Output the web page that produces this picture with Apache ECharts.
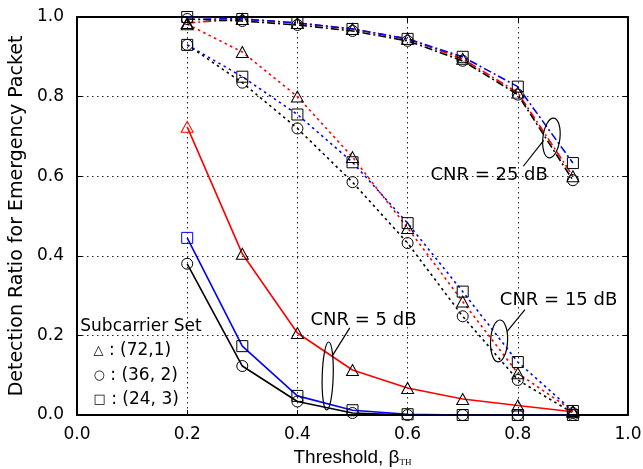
<!DOCTYPE html>
<html>
<head>
<meta charset="utf-8">
<script src="https://cdn.jsdelivr.net/npm/echarts@6/dist/echarts.min.js"></script>
<style>
  html, body { margin: 0; padding: 0; background: #fff; }
  #chart { width: 643px; height: 469px; }
</style>
</head>
<body>
<div id="chart"></div>
<script>
// threshold values on the x axis
const thresholds = [0.2, 0.3, 0.4, 0.5, 0.6, 0.7, 0.8, 0.9];
const xTicks = [0, 0.2, 0.4, 0.6, 0.8, 1.0];
const yTicks = [0, 0.2, 0.4, 0.6, 0.8, 1.0];

// CNR = 25 dB
const cnr25_72_1 = [0.985, 0.995, 0.985, 0.970, 0.945, 0.895, 0.810, 0.600];
const cnr25_36_2 = [0.995, 0.990, 0.980, 0.965, 0.940, 0.890, 0.805, 0.590];
const cnr25_24_3 = [1.000, 0.995, 0.985, 0.970, 0.945, 0.900, 0.825, 0.633];
// CNR = 15 dB
const cnr15_72_1 = [0.982, 0.912, 0.800, 0.648, 0.470, 0.285, 0.105, 0.010];
const cnr15_36_2 = [0.930, 0.835, 0.720, 0.585, 0.432, 0.248, 0.088, 0.005];
const cnr15_24_3 = [0.930, 0.850, 0.755, 0.635, 0.482, 0.310, 0.133, 0.010];
// CNR = 5 dB
const cnr5_72_1 = [0.724, 0.405, 0.206, 0.113, 0.068, 0.040, 0.024, 0.008];
const cnr5_36_2 = [0.380, 0.123, 0.034, 0.005, 0.000, 0.000, 0.000, 0.000];
const cnr5_24_3 = [0.445, 0.173, 0.048, 0.012, 0.002, 0.000, 0.000, 0.000];

const subcarrierSets = ['(72,1)', '(36, 2)', '(24, 3)'];
const cnrLabels = ['CNR = 25 dB', 'CNR = 15 dB', 'CNR = 5 dB'];

const RED = '#ff0000', BLACK = '#000000', BLUE = '#0000ff';
const FONT = 'DejaVu Sans';
const DASHDOT = [8, 3, 2, 3];
const DOTTED = [2.5, 3.5];

function makeSeries(name, values, color, symbol, size, dash, colorFirst) {
  return {
    name: name,
    type: 'line',
    data: thresholds.map((x, i) => {
      const item = { value: [x, values[i]] };
      if (colorFirst && i === 0) item.itemStyle = { borderColor: color };
      return item;
    }),
    symbol: symbol,
    symbolSize: size,
    showSymbol: true,
    lineStyle: { color: color, width: 1.6, type: dash },
    itemStyle: { color: 'rgba(0,0,0,0)', borderColor: BLACK, borderWidth: 1 },
    emphasis: { disabled: true },
    animation: false
  };
}

const series = [
  makeSeries('25-72', cnr25_72_1, RED, 'triangle', [12, 11], DASHDOT),
  makeSeries('25-24', cnr25_24_3, BLUE, 'rect', 11, DASHDOT),
  makeSeries('25-36', cnr25_36_2, BLACK, 'circle', 11, DASHDOT),
  makeSeries('15-36', cnr15_36_2, BLACK, 'circle', 11, DOTTED),
  makeSeries('15-24', cnr15_24_3, BLUE, 'rect', 11, DOTTED),
  makeSeries('15-72', cnr15_72_1, RED, 'triangle', [12, 11], DOTTED),
  makeSeries('5-72', cnr5_72_1, RED, 'triangle', [12, 11], 'solid', true),
  makeSeries('5-24', cnr5_24_3, BLUE, 'rect', 11, 'solid', true),
  makeSeries('5-36', cnr5_36_2, BLACK, 'circle', 11, 'solid', true)
];

const frameLine = { show: true, onZero: false, lineStyle: { color: '#000', width: 2 } };
const tickIn = { show: true, inside: true, length: 5, lineStyle: { color: '#000', width: 1 } };

const chart = echarts.init(document.getElementById('chart'), null, { renderer: 'canvas' });

chart.setOption({
  animation: false,
  backgroundColor: '#fff',
  grid: { left: 77, right: 15, top: 17, bottom: 54, outerBoundsMode: 'none', containLabel: false },
  xAxis: [{
    type: 'value', min: xTicks[0], max: xTicks[xTicks.length - 1], interval: 0.2,
    axisLine: frameLine, axisTick: tickIn,
    axisLabel: { formatter: v => v.toFixed(1), fontFamily: FONT, fontSize: 17, color: '#000', margin: 11 },
    splitLine: { show: true, lineStyle: { color: '#222', width: 1, type: [1.5, 3.5] } },
    name: '{t|Threshold, β}{s|TH}',
    nameLocation: 'middle', nameGap: 27,
    nameTextStyle: {
      rich: {
        t: { fontFamily: 'Liberation Sans', fontSize: 19, color: '#000', lineHeight: 22, verticalAlign: 'bottom' },
        s: { fontFamily: 'Liberation Serif', fontSize: 9, color: '#000', lineHeight: 9, verticalAlign: 'bottom' }
      }
    }
  }, {
    type: 'value', position: 'top', min: 0, max: 1, interval: 0.2,
    axisLine: frameLine, axisTick: tickIn, axisLabel: { show: false }, splitLine: { show: false }
  }],
  yAxis: [{
    type: 'value', min: yTicks[0], max: yTicks[yTicks.length - 1], interval: 0.2,
    axisLine: frameLine, axisTick: tickIn,
    axisLabel: { formatter: v => v.toFixed(1), fontFamily: FONT, fontSize: 17, color: '#000', margin: 13 },
    splitLine: { show: true, lineStyle: { color: '#222', width: 1, type: [1.5, 3.5] } },
    name: 'Detection Ratio for Emergency Packet',
    nameLocation: 'middle', nameGap: 45,
    nameTextStyle: { fontFamily: FONT, fontSize: 19, color: '#000' }
  }, {
    type: 'value', position: 'right', min: 0, max: 1, interval: 0.2,
    axisLine: frameLine, axisTick: tickIn, axisLabel: { show: false }, splitLine: { show: false }
  }],
  series: series
});

// annotations, placed in data coordinates
const ellipses = [
  { c: [0.861, 0.696], rx: 8.5, ry: 20, rot: -0.12, from: [0.847, 0.690], to: [0.810, 0.625], label: [0.748, 0.603] },
  { c: [0.766, 0.186], rx: 8.5, ry: 21, rot: -0.05, from: [0.781, 0.211], to: [0.813, 0.265], label: [0.874, 0.288] },
  { c: [0.455, 0.098], rx: 5.5, ry: 34, rot: -0.03, from: [0.463, 0.148], to: [0.495, 0.219], label: [0.520, 0.239] }
];
const legendTitlePos = [0.006, 0.221];
const legendRowsY = [0.163, 0.100, 0.038];
const legendMarks = ['△', '○', '□'];

const px = p => chart.convertToPixel({ gridIndex: 0 }, p);
const graphics = [];
ellipses.forEach((e, i) => {
  const c = px(e.c), a = px(e.from), b = px(e.to), l = px(e.label);
  graphics.push({
    type: 'ellipse', x: c[0], y: c[1], rotation: e.rot,
    shape: { cx: 0, cy: 0, rx: e.rx, ry: e.ry },
    style: { fill: 'none', stroke: '#000', lineWidth: 1.2 }, z: 100
  });
  graphics.push({
    type: 'line', shape: { x1: a[0], y1: a[1], x2: b[0], y2: b[1] },
    style: { stroke: '#000', lineWidth: 1.2 }, z: 100
  });
  graphics.push({
    type: 'text', x: l[0], y: l[1], z: 100,
    style: { text: cnrLabels[i], font: '18px "' + FONT + '"', fill: '#000', align: 'center', verticalAlign: 'middle' }
  });
});
const lt = px(legendTitlePos);
graphics.push({
  type: 'text', x: lt[0], y: lt[1], z: 100,
  style: { text: 'Subcarrier Set', font: '17px "' + FONT + '"', fill: '#000', align: 'left', verticalAlign: 'middle' }
});
legendRowsY.forEach((yv, i) => {
  const p = px([0.03, yv]);
  graphics.push({
    type: 'text', x: p[0], y: p[1], z: 100,
    style: {
      text: '{m|' + legendMarks[i] + '}{t| : ' + subcarrierSets[i] + '}',
      rich: {
        m: { font: '13px "' + FONT + '"', fill: '#000' },
        t: { font: '17px "' + FONT + '"', fill: '#000' }
      },
      align: 'left', verticalAlign: 'middle'
    }
  });
});
chart.setOption({ graphic: { elements: graphics } });
</script>
</body>
</html>
